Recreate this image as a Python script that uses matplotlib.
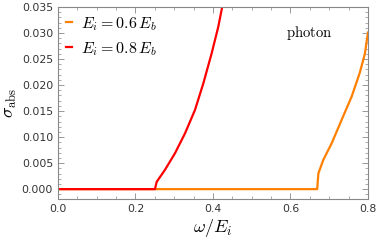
import matplotlib
matplotlib.use("Agg")
import matplotlib.pyplot as plt
from matplotlib.ticker import MultipleLocator

plt.rcParams['mathtext.fontset'] = 'cm'

omega_06 = [0.0, 0.669, 0.672, 0.6846, 0.7063, 0.732, 0.758, 0.779, 0.792, 0.8]
sigma_06 = [0.0, 0.0, 0.003, 0.0056, 0.0088, 0.0133, 0.0178, 0.0224, 0.026, 0.0301]
omega_08 = [0.0, 0.2503, 0.2547, 0.276, 0.302, 0.3277, 0.3535, 0.375, 0.3966, 0.4137, 0.424, 0.428]
sigma_08 = [0.0, 0.0, 0.0014, 0.0037, 0.0069, 0.0107, 0.0152, 0.0203, 0.0261, 0.0312, 0.0351, 0.0368]
labels = [r'$E_i = 0.6\,E_b$', r'$E_i = 0.8\,E_b$']

fig = plt.figure(figsize=(3.77, 2.43), dpi=100)
ax = fig.add_axes([0.1538, 0.181, 0.8222, 0.790])

ax.plot(omega_06, sigma_06, color='#FF8000', lw=1.6, label=labels[0])
ax.plot(omega_08, sigma_08, color='#FF0000', lw=1.6, label=labels[1])

ax.set_xlim(0, 0.8)
ax.set_ylim(-0.0019, 0.035)
ax.xaxis.set_major_locator(MultipleLocator(0.2))
ax.xaxis.set_minor_locator(MultipleLocator(0.05))
ax.yaxis.set_major_locator(MultipleLocator(0.005))
ax.yaxis.set_minor_locator(MultipleLocator(0.001))
ax.xaxis.set_major_formatter(plt.FuncFormatter(lambda v, p: '%.1f' % v))
ax.yaxis.set_major_formatter(plt.FuncFormatter(lambda v, p: '%.3f' % v))
ax.tick_params(which='both', direction='in', top=True, right=True, color='#888888',
               labelsize=7.8, labelcolor='#333333')
ax.tick_params(which='major', length=4, width=0.6)
ax.tick_params(which='minor', length=2, width=0.5)
for s in ax.spines.values():
    s.set_color('#888888')
    s.set_linewidth(0.8)

ax.set_xlabel(r'$\omega/E_i$', fontsize=13, labelpad=2)
ax.set_ylabel(r'$\sigma_{\rm abs}$', fontsize=13, labelpad=2)
ax.text(0.735, 0.865, r'$\mathrm{photon}$', transform=ax.transAxes, fontsize=10.5,
        ha='left', va='center')

ax.legend(loc='upper left', frameon=False, fontsize=11.5, handlelength=0.35,
          handletextpad=0.6, labelspacing=0.45, borderaxespad=0.0, borderpad=0.5)

fig.savefig('out.png', dpi=100)
